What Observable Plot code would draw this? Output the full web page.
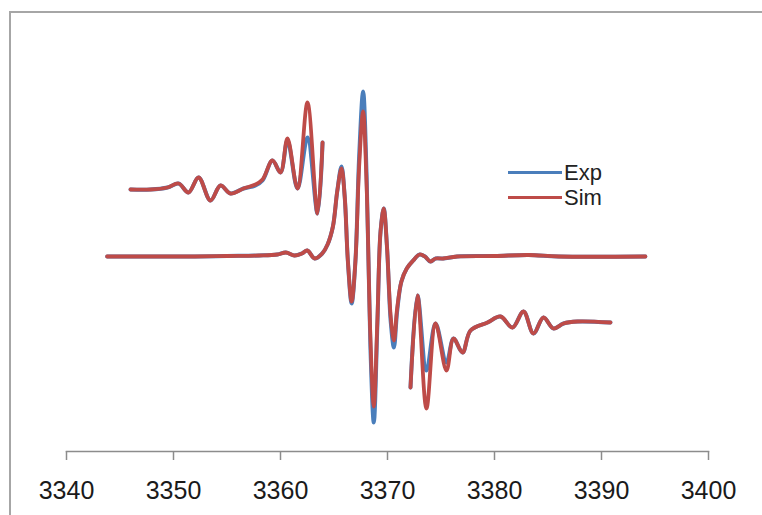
<!DOCTYPE html>
<html>
<head>
<meta charset="utf-8">
<script src="https://cdn.jsdelivr.net/npm/d3@7"></script>
<script src="https://cdn.jsdelivr.net/npm/@observablehq/plot@0.6"></script>
<style>
  html, body { margin: 0; padding: 0; background: #fff; overflow: hidden; }
  #wrap { position: relative; width: 762px; height: 515px; overflow: hidden; font-family: "Liberation Sans", Arial, sans-serif; }
  #frame { position: absolute; left: 9px; top: 11px; width: 800px; height: 600px; border: 2px solid #a6a6a6; pointer-events: none; }
  #legend { position: absolute; left: 508px; top: 160px; font-size: 22px; color: #222; line-height: 25px; }
  #legend .row { display: flex; align-items: center; height: 25px; }
  #legend .sw { width: 54px; height: 3px; margin-right: 2px; }
  #chart { position: absolute; left: 0; top: 0; }
</style>
</head>
<body>
<div id="wrap">
  <div id="chart"></div>
  <div id="frame"></div>
  <div id="legend"></div>
</div>
<script>
// ---- data (field in G, signal in arbitrary units) ----
const seriesNames = ["Exp", "Sim"];
const seriesColors = ["#4a7ebb", "#be4b48"];
const xTicks = [3340, 3350, 3360, 3370, 3380, 3390, 3400];

// main (full) spectrum
const fieldMain = [3343.8, 3348, 3352, 3355, 3358, 3359.7, 3360.5, 3361.3, 3362.0, 3362.5, 3363.2, 3363.9, 3364.4, 3364.9, 3365.3, 3365.7, 3366.0, 3366.3, 3366.65, 3367.0, 3367.35, 3367.72, 3368.05, 3368.4, 3368.72, 3369.05, 3369.35, 3369.65, 3369.95, 3370.3, 3370.6, 3370.9, 3371.3, 3371.8, 3372.4, 3373.0, 3373.5, 3374.0, 3374.5, 3375.2, 3376.5, 3380, 3383.2, 3386, 3394.1];
const expMain   = [0, 0, 0, 0.5, 1, 2, 4, 1, 3, 6, -2, 3, 12, 30, 65, 90, 60, -5, -47, -5, 100, 165, 80, -90, -166, -70, 25, 48, 10, -65, -91, -55, -25, -12, -4, 2, 0, -5, -2, -2, 0, 0.5, 1.5, 0, 0];
const simMain   = [0, 0, 0, 0.5, 1, 2, 4, 1, 3, 6, -2, 3, 12, 30, 65, 88, 60, -5, -45, -5, 90, 145, 70, -80, -150, -65, 25, 48, 10, -60, -84, -52, -25, -12, -4, 2, 0, -5, -2, -2, 0, 0.5, 1.5, 0, 0];

// expanded low-field wing (offset upward)
const fieldUpper = [3345.98, 3347.85, 3349.44, 3350.47, 3351.40, 3352.34, 3353.46, 3354.39, 3355.33, 3356.54, 3357.66, 3358.32, 3359.25, 3360.0, 3360.65, 3361.59, 3362.52, 3363.46, 3363.93];
const expUpper   = [67, 67, 69, 73, 64, 79, 56, 71, 63, 68, 71, 76, 96, 84, 116, 68, 119, 43, 114];
const simUpper   = [67, 67, 69, 73, 64, 79, 56, 71, 63, 68, 72, 77, 96, 84, 118, 68, 154, 43, 114];

// expanded high-field wing (offset downward)
const fieldLower = [3372.15, 3372.80, 3373.64, 3374.49, 3375.51, 3376.17, 3377.01, 3377.76, 3379.35, 3380.56, 3381.68, 3382.71, 3383.64, 3384.58, 3385.51, 3386.45, 3387.76, 3390.84];
const expLower   = [-131, -39, -114, -67, -106, -82, -96, -74, -66, -60, -71, -55, -77, -61, -72, -67, -65, -66];
const simLower   = [-131, -39, -152, -67, -114, -82, -96, -74, -66, -60, -71, -55, -77, -61, -72, -67, -65, -66];

// ---- build tidy rows ----
function rows(fields, vals, series, part) {
  return fields.map((f, i) => ({field: f, signal: vals[i], series, part}));
}
const data = [
  ...rows(fieldMain, expMain, "Exp", "main"),
  ...rows(fieldUpper, expUpper, "Exp", "upper"),
  ...rows(fieldLower, expLower, "Exp", "lower"),
  ...rows(fieldMain, simMain, "Sim", "main"),
  ...rows(fieldUpper, simUpper, "Sim", "upper"),
  ...rows(fieldLower, simLower, "Sim", "lower")
];

const chart = Plot.plot({
  width: 762,
  height: 515,
  marginLeft: 66,
  marginRight: 54,
  marginTop: 20,
  marginBottom: 64,
  style: {background: "transparent", fontFamily: "Liberation Sans, Arial, sans-serif"},
  x: {domain: [3340, 3400]},
  y: {domain: [-195, 236], axis: null},
  color: {domain: seriesNames, range: seriesColors},
  marks: [
    Plot.frame({anchor: "bottom", stroke: "#8c8c8c", strokeWidth: 1.5}),
    Plot.axisX({ticks: xTicks, tickFormat: d => String(d), tickSize: 9, tickPadding: 21, fontSize: 25, stroke: "#8c8c8c", strokeWidth: 1.5, fill: "#1a1a1a", label: null}),
    Plot.line(data.filter(d => d.series === "Exp"), {x: "field", y: "signal", z: "part", stroke: "series", strokeWidth: 4, curve: "catmull-rom"}),
    Plot.line(data.filter(d => d.series === "Sim"), {x: "field", y: "signal", z: "part", stroke: "series", strokeWidth: 3.8, curve: "catmull-rom"})
  ]
});
document.getElementById("chart").appendChild(chart);

// legend
const lg = document.getElementById("legend");
seriesNames.forEach((name, i) => {
  const row = document.createElement("div");
  row.className = "row";
  const sw = document.createElement("div");
  sw.className = "sw";
  sw.style.background = seriesColors[i];
  const t = document.createElement("span");
  t.textContent = name;
  row.appendChild(sw);
  row.appendChild(t);
  lg.appendChild(row);
});
</script>
</body>
</html>
